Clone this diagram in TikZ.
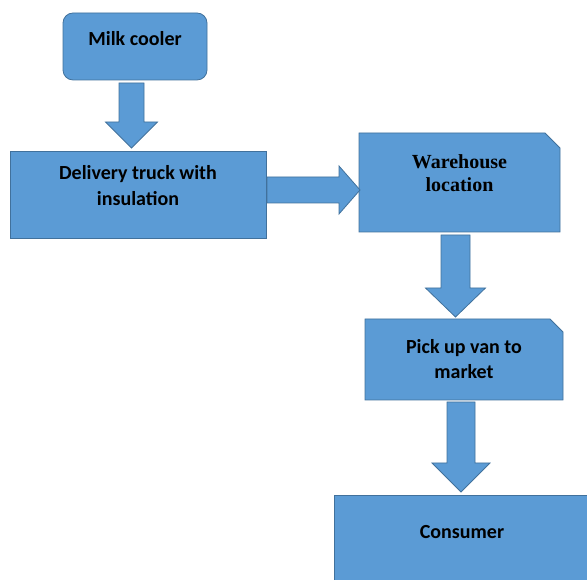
\documentclass[tikz,border=0pt]{standalone}
\usepackage{fontspec}
\setmainfont{Carlito}
\newfontfamily\serifbf{Liberation Serif}
\usetikzlibrary{calc,backgrounds}
\definecolor{boxblue}{HTML}{5B9BD5}
\definecolor{boxline}{HTML}{41719C}
\tikzset{
  box/.style={fill=boxblue, draw=boxline, line width=0.8pt, outer sep=0pt, inner sep=0pt,
    align=center, font=\fontsize{20}{25}\selectfont\bfseries},
  snipbox/.style={box, fill=none, draw=none},
  snipfill/.style={fill=boxblue, draw=boxline, line width=0.8pt},
  % #1 half shaft, #2 half head, #3 head length
  bigarrow/.style n args={3}{fill=boxblue, draw=boxline, line width=0.8pt,
    to path={($(\tikztostart)!#1!90:(\tikztotarget)$)
      -- ($($(\tikztotarget)!#3!(\tikztostart)$)!#1!90:(\tikztotarget)$)
      -- ($($(\tikztotarget)!#3!(\tikztostart)$)!#2!90:(\tikztotarget)$)
      -- (\tikztotarget)
      -- ($($(\tikztotarget)!#3!(\tikztostart)$)!#2!-90:(\tikztotarget)$)
      -- ($($(\tikztotarget)!#3!(\tikztostart)$)!#1!-90:(\tikztotarget)$)
      -- ($(\tikztostart)!#1!-90:(\tikztotarget)$) -- cycle}}
}
\begin{document}
\begin{tikzpicture}[x=1pt,y=1pt]
\path[use as bounding box, clip] (0,0) rectangle (587,580);

\node[box, rounded corners=10pt, minimum width=144pt, minimum height=67pt, text depth=17pt] (milk) at (135,533.5) {Milk cooler};
\node[box, minimum width=256pt, minimum height=87pt, text depth=19pt, font=\fontsize{20}{26}\selectfont\bfseries] (truck) at (138,385.5) {Delivery truck with\\insulation};
\node[snipbox, minimum width=201pt, minimum height=99pt, text depth=18pt, font=\fontsize{20}{23}\selectfont\serifbf\bfseries] (warehouse) at (459.5,397.5) {Warehouse\\location};
\node[snipbox, minimum width=198pt, minimum height=81pt] (pickup) at (464,220.5) {Pick up van to\\market};
\node[box, minimum width=256pt, minimum height=115pt, text depth=41pt] (consumer) at (462,27.5) {Consumer};

\begin{scope}[on background layer]
\foreach \n/\c in {warehouse/15, pickup/13}
  \draw[snipfill] (\n.south west) -- (\n.north west) -- ([xshift=-\c pt]\n.north east)
    -- ([yshift=-\c pt]\n.north east) -- (\n.south east) -- cycle;
\end{scope}

\coordinate (a1s) at ($(milk.south)+(-3.5,-3)$);
\coordinate (a1e) at ($(a1s |- truck.north)+(0,3)$);
\coordinate (a2s) at ($(truck.east)+(1,4.5)$);
\coordinate (a2e) at ($(a2s -| warehouse.west)+(1,0)$);
\coordinate (a3s) at ($(warehouse.south)+(-4,-3)$);
\coordinate (a3e) at ($(a3s |- pickup.north)+(0,2)$);
\coordinate (a4s) at ($(pickup.south)+(-3,-2)$);
\coordinate (a4e) at ($(a4s |- consumer.north)+(0,3)$);

\draw[bigarrow={12.5pt}{26pt}{26pt}] (a1s) to (a1e);
\draw[bigarrow={13pt}{24pt}{21pt}] (a2s) to (a2e);
\draw[bigarrow={14.5pt}{30pt}{29pt}] (a3s) to (a3e);
\draw[bigarrow={14pt}{29pt}{29pt}] (a4s) to (a4e);
\end{tikzpicture}
\end{document}
